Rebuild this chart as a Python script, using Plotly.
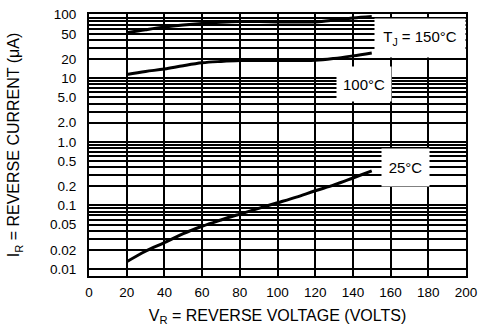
import plotly.graph_objects as go

# ---- data ----
vr = [20, 30, 40, 50, 60, 70, 80, 90, 100, 110, 120, 130, 140, 150]
ir_150 = [52, 58, 64, 69, 73, 76, 78, 78, 77, 77, 77, 82, 89, 94]
ir_100 = [11.5, 12.8, 14.0, 15.8, 17.5, 18.4, 19.0, 19.1, 19.1, 19.1, 19.2, 20.5, 22.5, 25.0]
ir_25 = [0.013, 0.019, 0.026, 0.036, 0.047, 0.059, 0.073, 0.09, 0.11, 0.135, 0.17, 0.21, 0.27, 0.35]

x_ticks = [0, 20, 40, 60, 80, 100, 120, 140, 160, 180, 200]
y_labels = {0.01: "0.01", 0.02: "0.02", 0.05: "0.05", 0.1: "0.1", 0.2: "0.2", 0.5: "0.5",
            1: "1.0", 2: "2.0", 5: "5.0", 10: "10", 20: "20", 50: "50", 100: "100"}

# all log grid values 1..9 x decade
y_tickvals = []
y_ticktext = []
for dec in [0.01, 0.1, 1, 10]:
    for m in range(1, 10):
        v = round(m * dec, 6)
        y_tickvals.append(v)
        y_ticktext.append(y_labels.get(v, ""))
y_tickvals.append(100)
y_ticktext.append("100")

FONT = "Liberation Sans, Arial, sans-serif"

fig = go.Figure()
for ys in (ir_150, ir_100, ir_25):
    fig.add_trace(go.Scatter(x=vr, y=ys, mode="lines",
                             line=dict(color="black", width=3, shape="spline"),
                             showlegend=False, hoverinfo="skip"))

# annotation y positions are in log10 units on a log axis
ann_font = dict(family=FONT, size=15, color="black")
fig.add_annotation(x=175.5, y=1.634, xref="x", yref="y", text="T<sub>J</sub> = 150°C",
                   showarrow=False, bgcolor="white", width=88, height=36, font=ann_font)
fig.add_annotation(x=145.8, y=0.912, xref="x", yref="y", text="100°C",
                   showarrow=False, bgcolor="white", width=52, height=32, font=ann_font)
fig.add_annotation(x=167.9, y=-0.399, xref="x", yref="y", text="25°C",
                   showarrow=False, bgcolor="white", width=45, height=35, font=ann_font)

fig.update_layout(
    width=480, height=326,
    margin=dict(l=89, r=14, t=14, b=50),
    paper_bgcolor="white", plot_bgcolor="white",
    font=dict(family=FONT, size=13.5, color="black"),
    xaxis=dict(range=[0, 200], tickvals=x_ticks, ticks="", showgrid=True,
               gridcolor="black", gridwidth=1.5, zeroline=False,
               showline=True, linecolor="black", linewidth=2, mirror=True,
               ticklabelstandoff=3, automargin=False,
               title=dict(text="V<sub>R</sub> = REVERSE VOLTAGE (VOLTS)",
                          font=dict(size=16), standoff=11)),
    yaxis=dict(type="log", range=[-2.11, 2.011], tickvals=y_tickvals, ticktext=y_ticktext,
               ticks="", showgrid=True, gridcolor="black", gridwidth=1.5, zeroline=False,
               showline=True, linecolor="black", linewidth=2, mirror=True,
               ticklabelstandoff=8, automargin=False,
               title=dict(text="I<sub>R</sub> = REVERSE CURRENT (μA)",
                          font=dict(size=16), standoff=26)),
)

fig.write_html("out.html", config={"displayModeBar": False},
               post_script="document.body.style.margin='0';document.body.style.overflow='hidden';")
